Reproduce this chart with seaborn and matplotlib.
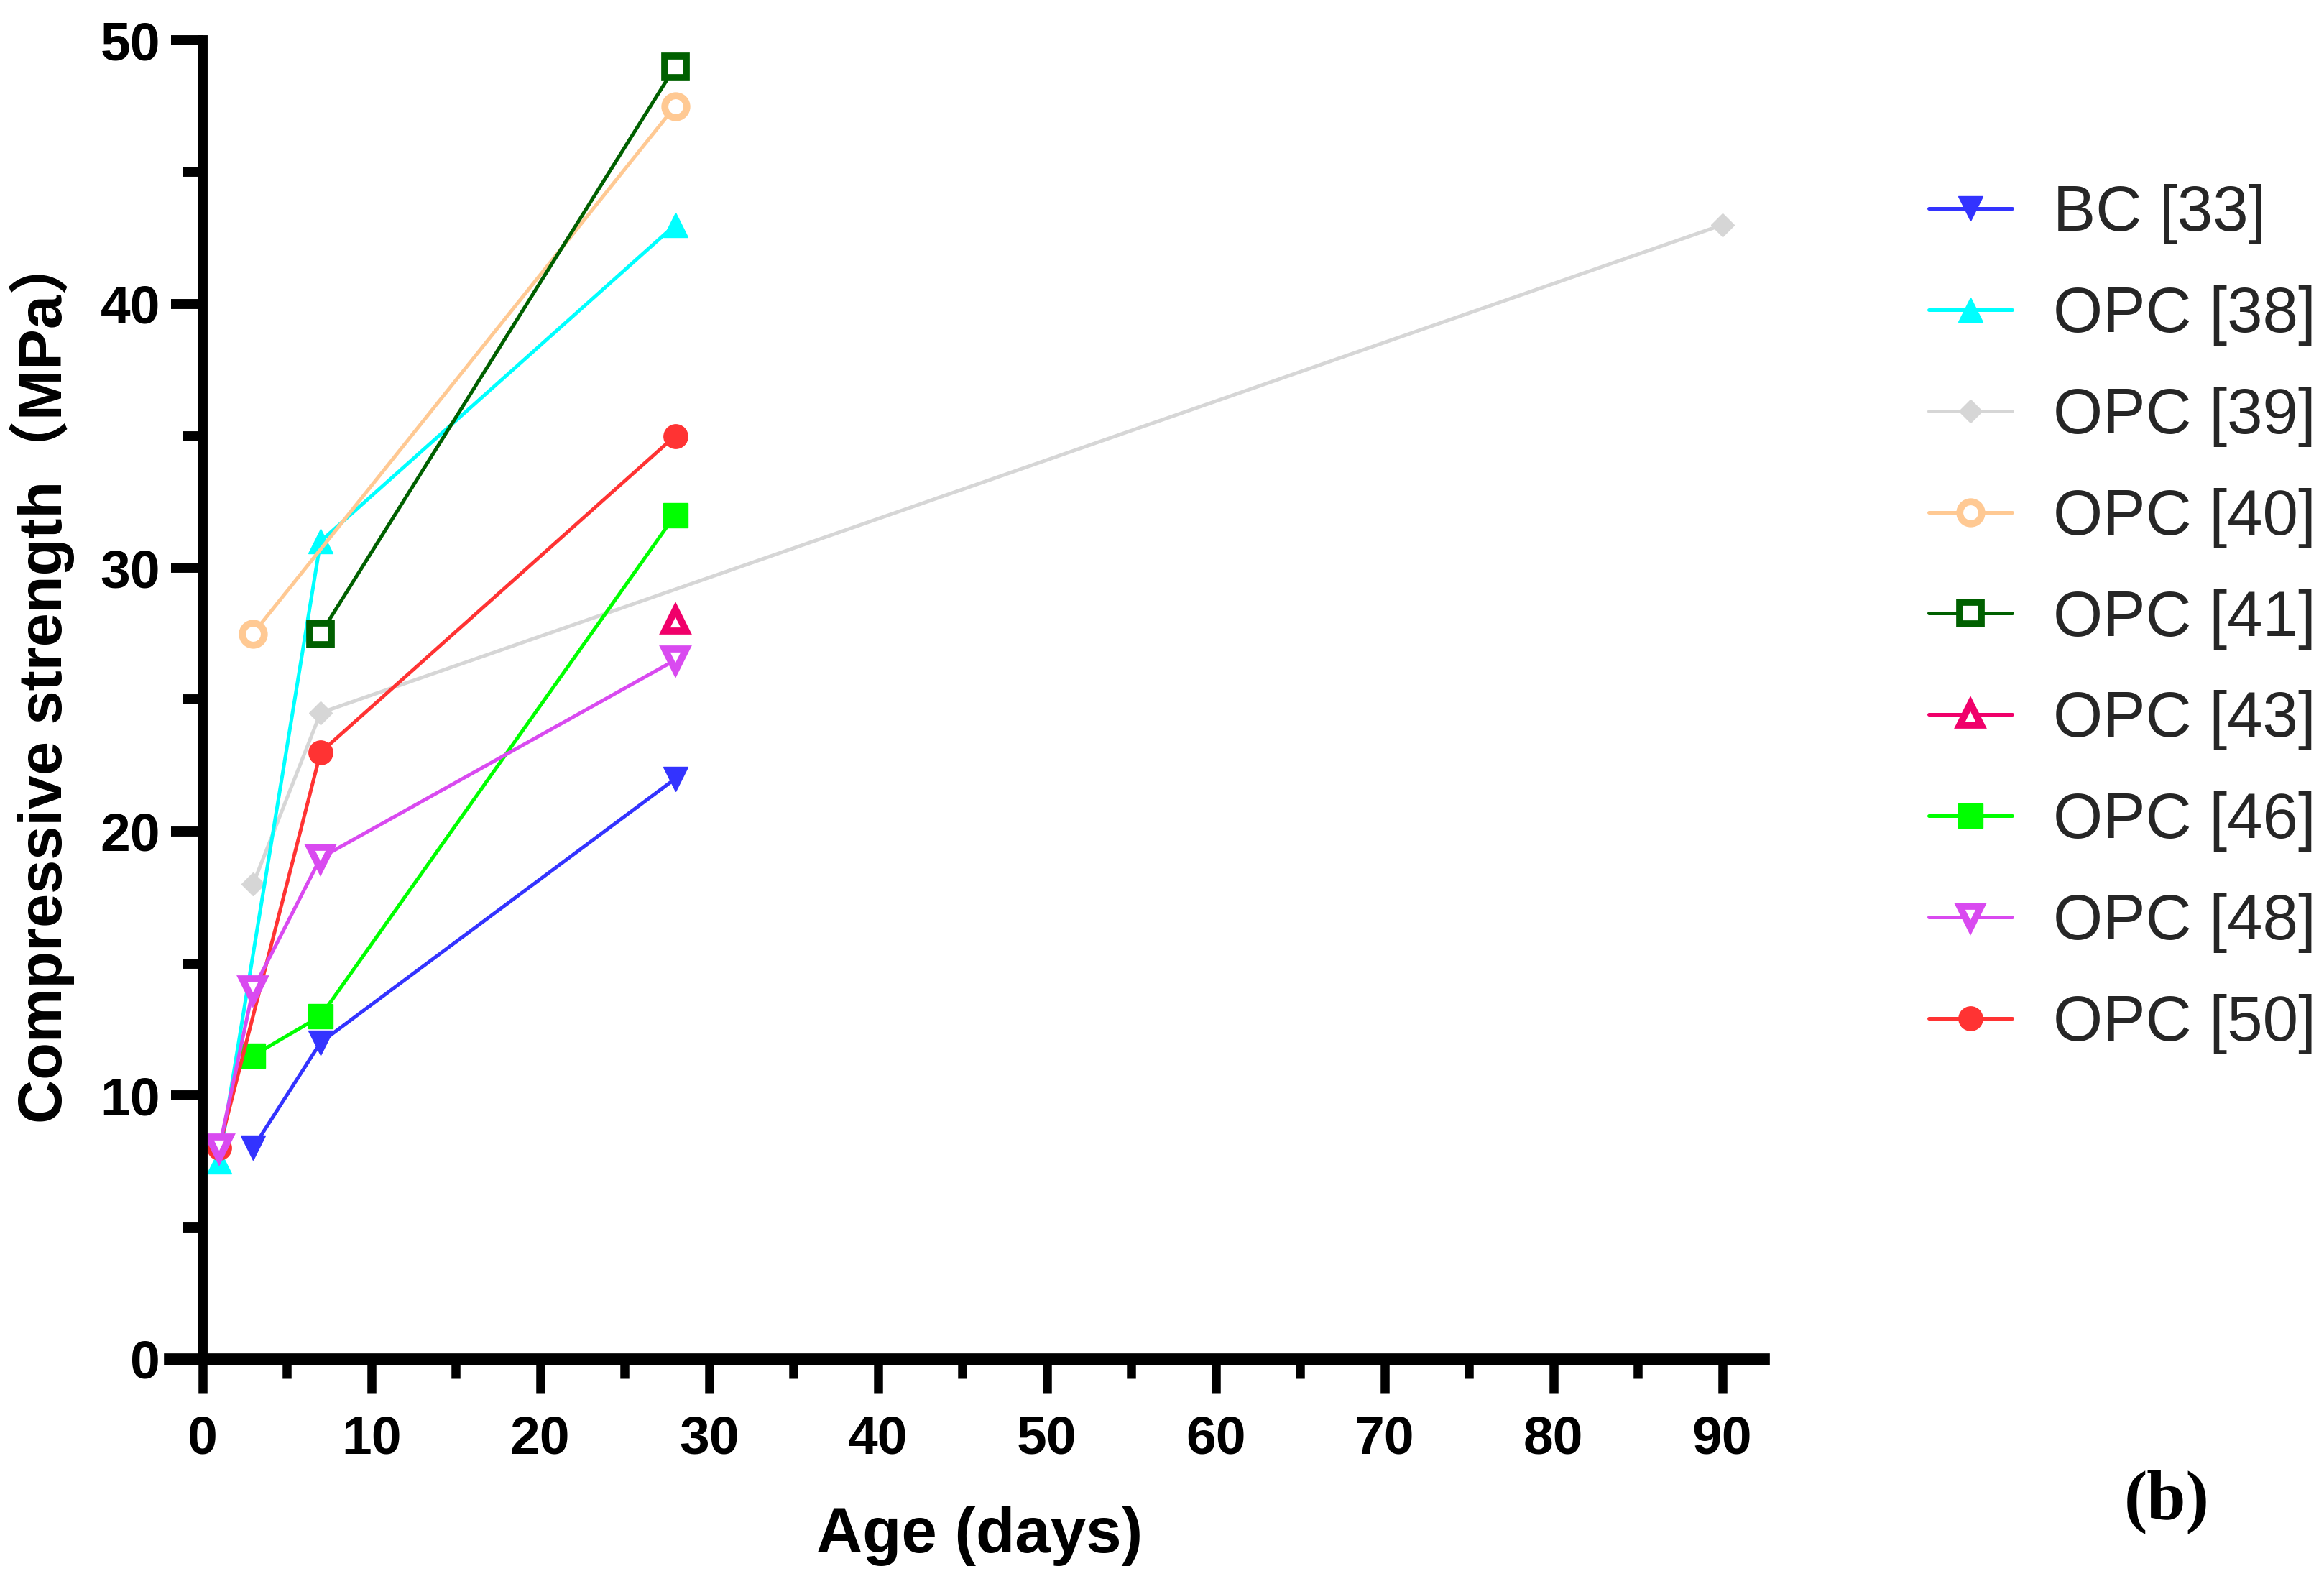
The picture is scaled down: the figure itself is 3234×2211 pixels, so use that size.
import matplotlib
matplotlib.use("Agg")
import matplotlib.pyplot as plt
import seaborn as sns
import numpy as np

sns.set_theme(style="ticks")
plt.rcParams['font.family'] = ['Liberation Sans', 'Noto Sans CJK SC', 'DejaVu Sans']

# ---------------- data ----------------
labels = ["BC [33]", "OPC [38]", "OPC [39]", "OPC [40]", "OPC [41]",
          "OPC [43]", "OPC [46]", "OPC [48]", "OPC [50]"]
bc33_x = [3, 7, 28];          bc33_y = [8, 12, 22]
opc38_x = [1, 7, 28];         opc38_y = [7.5, 31, 43]
opc39_x = [3, 7, 90];         opc39_y = [18, 24.5, 43]
opc40_x = [3, 28];            opc40_y = [27.5, 47.5]
opc41_x = [7, 28];            opc41_y = [27.5, 49]
opc43_x = [28];               opc43_y = [28]
opc46_x = [3, 7, 28];         opc46_y = [11.5, 13, 32]
opc48_x = [1, 3, 7, 28];      opc48_y = [8, 14, 19, 26.5]
opc50_x = [1, 7, 28];         opc50_y = [8, 23, 35]

xs = [bc33_x, opc38_x, opc39_x, opc40_x, opc41_x, opc43_x, opc46_x, opc48_x, opc50_x]
ys = [bc33_y, opc38_y, opc39_y, opc40_y, opc41_y, opc43_y, opc46_y, opc48_y, opc50_y]

colors = ["#3333FF", "#00FFFF", "#D6D6D6", "#FFC993", "#006000",
          "#F0006A", "#00FF00", "#D94AF0", "#FF3333"]
markers = ["v", "^", "D", "o", "s", "^", "s", "v", "o"]
filled = [True, True, True, False, False, False, True, False, True]
zorders = [3, 2.5, 2, 3, 3, 3, 3, 3.6, 3.4]
xticks = [0, 10, 20, 30, 40, 50, 60, 70, 80, 90]
yticks = [0, 10, 20, 30, 40, 50]

# ---------------- figure ----------------
W, H = 3234, 2211
fig = plt.figure(figsize=(W / 200, H / 200), dpi=200)
ax = fig.add_axes([236 / W, 1 - 1891 / H, (2454 - 236) / W, (1891 - 56) / H])

for lab, x, y, c, m, f, z in zip(labels, xs, ys, colors, markers, filled, zorders):
    if f:
        ms = 8 if m == "D" else 12
        kw = dict(markerfacecolor=c, markeredgecolor=c, markeredgewidth=0.5, markersize=ms)
    else:
        kw = dict(markerfacecolor="white", markeredgecolor=c, markeredgewidth=3.5, markersize=11)
    sns.lineplot(x=x, y=y, ax=ax, color=c, marker=m, linewidth=1.8,
                 label=lab, clip_on=False, zorder=z, **kw)

ax.set_xlim(-1.94, 92.44)
ax.set_ylim(0, 50)
ax.spines['left'].set_position(('data', 0))
ax.spines['top'].set_visible(False)
ax.spines['right'].set_visible(False)
ax.spines['bottom'].set_linewidth(6)
ax.spines['left'].set_linewidth(5)
for s in ('left', 'bottom'):
    ax.spines[s].set_color('black')
    ax.spines[s].set_zorder(4)

ax.set_xticks(xticks)
ax.set_xticks(np.arange(5, 90, 10), minor=True)
ax.set_yticks(yticks)
ax.set_yticks(np.arange(5, 50, 10), minor=True)

ax.tick_params(axis='x', which='major', direction='out', length=17, width=4.5, pad=11,
               labelsize=27, color='black', labelcolor='black')
ax.tick_params(axis='x', which='minor', direction='out', length=9.6, width=4.5, color='black')
ax.tick_params(axis='y', which='major', direction='out', length=16, width=5, pad=5,
               labelsize=27, color='black', labelcolor='black')
ax.tick_params(axis='y', which='minor', direction='out', length=9.7, width=5, color='black')
for t in ax.get_xticklabels() + ax.get_yticklabels():
    t.set_fontweight('bold')

ax.set_xlabel("Age (days)", fontsize=32, fontweight='bold', color='black')
ax.xaxis.set_label_coords(0.508, -0.111)
ax.set_ylabel("Compressive strength（MPa）", fontsize=30.5, fontweight='bold', color='black',
              family=['Liberation Sans', 'Noto Sans CJK SC'])
ax.yaxis.set_label_coords(-0.0596, 0.516)

ax.legend(loc='upper left', bbox_to_anchor=(2684 / W, 1 - 256 / H),
          bbox_transform=fig.transFigure, frameon=False, fontsize=32,
          borderpad=0, borderaxespad=0, handlelength=1.3, handletextpad=0.65,
          labelspacing=0.64)

fig.text(3015 / W, 1 - 2090 / H, "(b)", fontsize=35, fontweight='bold',
         family=['Liberation Serif'], ha='center', va='center', color='black')

fig.savefig("out.png", dpi=200, facecolor='white')
